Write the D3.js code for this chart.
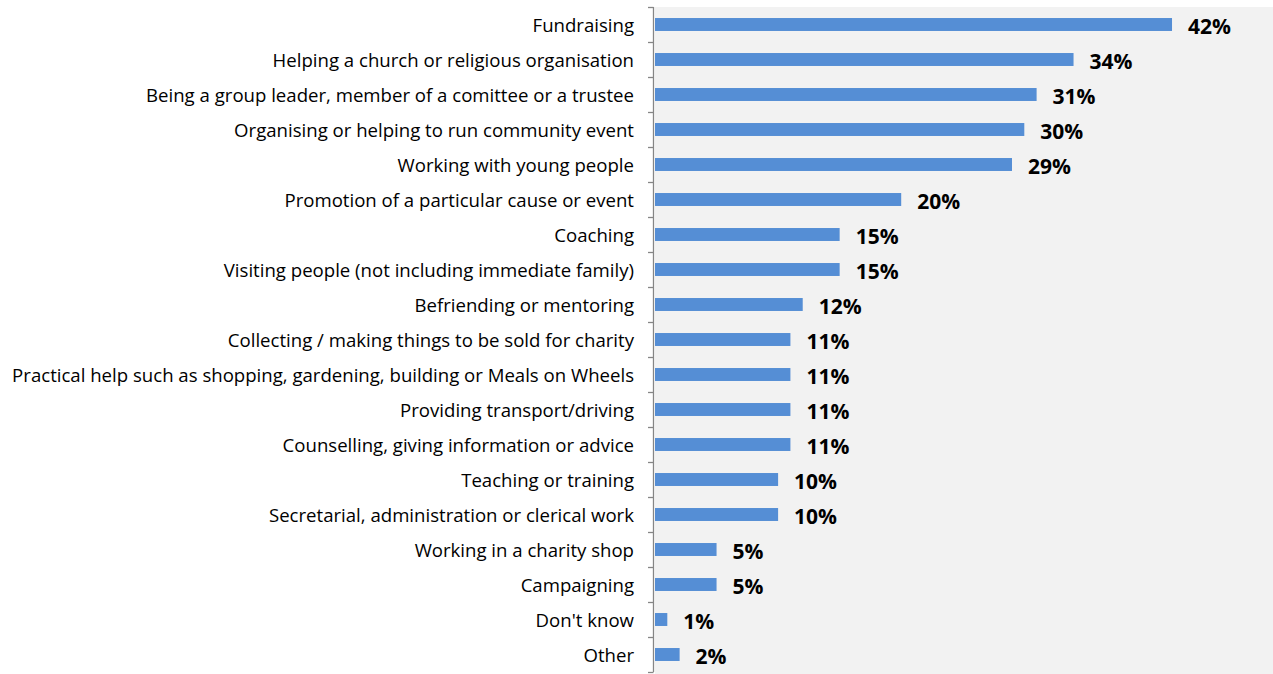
<!DOCTYPE html>
<html>
<head>
<meta charset="utf-8">
<script src="https://cdn.jsdelivr.net/npm/d3@7/dist/d3.min.js"></script>
<style>
  html, body { margin: 0; padding: 0; background: #fff; }
  svg { display: block; }
</style>
</head>
<body>
<svg id="chart" width="1273" height="674"></svg>
<script>
// Volunteering activities, share of respondents (%)
const categories = [
  "Fundraising",
  "Helping a church or religious organisation",
  "Being a group leader, member of a comittee or a trustee",
  "Organising or helping to run community event",
  "Working with young people",
  "Promotion of a particular cause or event",
  "Coaching",
  "Visiting people (not including immediate family)",
  "Befriending or mentoring",
  "Collecting / making things to be sold for charity",
  "Practical help such as shopping, gardening, building or Meals on Wheels",
  "Providing transport/driving",
  "Counselling, giving information or advice",
  "Teaching or training",
  "Secretarial, administration or clerical work",
  "Working in a charity shop",
  "Campaigning",
  "Don't know",
  "Other"
];
const values = [42, 34, 31, 30, 29, 20, 15, 15, 12, 11, 11, 11, 11, 10, 10, 5, 5, 1, 2];
const valueDomain = [0, 50];

const svg = d3.select("#chart");
const plot = { left: 655, top: 7, right: 1273, bottom: 674 };
const axisBottom = 672;

svg.append("rect")
  .attr("x", plot.left).attr("y", plot.top)
  .attr("width", plot.right - plot.left).attr("height", plot.bottom - plot.top)
  .attr("fill", "#f2f2f2");

const x = d3.scaleLinear().domain(valueDomain).range([plot.left, plot.left + 615.5]);
const y = d3.scaleBand().domain(categories).range([plot.top, axisBottom]).paddingInner(0.63).paddingOuter(0.315);
const yTicks = d3.scaleBand().domain(categories).range([plot.top, axisBottom]);

svg.selectAll("rect.bar")
  .data(values)
  .join("rect")
  .attr("class", "bar")
  .attr("x", x(0))
  .attr("y", (d, i) => y(categories[i]))
  .attr("width", d => x(d) - x(0))
  .attr("height", y.bandwidth())
  .attr("fill", "#558ed5");

// Category axis with tick marks on band boundaries
const axisG = svg.append("g");
axisG.append("line")
  .attr("x1", 653.5).attr("x2", 653.5)
  .attr("y1", plot.top).attr("y2", axisBottom)
  .attr("stroke", "#868686").attr("stroke-width", 1.3);
const bounds = categories.map(c => yTicks(c)).concat([axisBottom]);
axisG.selectAll("line.tick")
  .data(bounds)
  .join("line")
  .attr("class", "tick")
  .attr("x1", 648).attr("x2", 653.5)
  .attr("y1", d => Math.round(d) + 0.5).attr("y2", d => Math.round(d) + 0.5)
  .attr("stroke", "#868686").attr("stroke-width", 1.3);

svg.selectAll("text.cat")
  .data(categories)
  .join("text")
  .attr("class", "cat")
  .attr("x", 634)
  .attr("y", d => yTicks(d) + yTicks.bandwidth() / 2 + 0.8)
  .attr("dy", "0.35em")
  .attr("text-anchor", "end")
  .attr("font-family", "'Open Sans', sans-serif")
  .attr("font-size", 18.6)
  .attr("fill", "#000")
  .text(d => d);

svg.selectAll("text.val")
  .data(values)
  .join("text")
  .attr("class", "val")
  .attr("x", d => x(d) + 16)
  .attr("y", (d, i) => yTicks(categories[i]) + yTicks.bandwidth() / 2 + 2.5)
  .attr("dy", "0.35em")
  .attr("font-family", "'Open Sans', sans-serif")
  .attr("font-weight", "bold")
  .attr("font-size", 21)
  .attr("fill", "#000")
  .text(d => d + "%");
</script>
</body>
</html>
